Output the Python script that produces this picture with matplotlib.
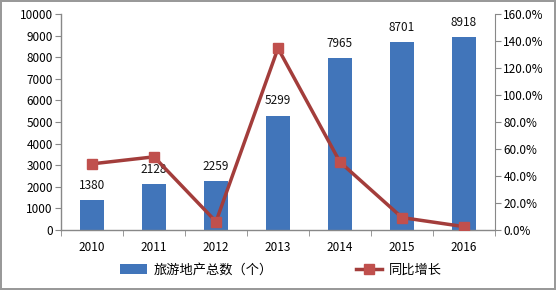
import matplotlib
matplotlib.use("Agg")
import matplotlib.pyplot as plt
from matplotlib.ticker import FuncFormatter, FixedLocator

plt.rcParams['font.family'] = ['Noto Sans CJK SC', 'DejaVu Sans']

# ── data ─────────────────────────────────────────────
years = ["2010", "2011", "2012", "2013", "2014", "2015", "2016"]
totals = [1380, 2128, 2259, 5299, 7965, 8701, 8918]
growth = [49.0, 54.2, 6.2, 134.6, 50.3, 9.2, 2.5]   # %

bar_color = "#4175BA"
line_color = "#A33D3B"
marker_color = "#C0504D"
axis_color = "#888888"

fig = plt.figure(figsize=(5.56, 2.90), dpi=100)
fig.patch.set_facecolor("white")
fig.patch.set_edgecolor("#999999")
fig.patch.set_linewidth(1.5)

ax = fig.add_axes([61 / 556, 60 / 290, 434 / 556, 216 / 290])
x = list(range(len(years)))
ax.bar(x, totals, width=0.4, color=bar_color, label="旅游地产总数（个）", zorder=2)

for xi, v in zip(x, totals):
    ax.annotate(str(v), (xi, v), xytext=(0, 6), textcoords="offset points",
                ha="center", va="bottom", fontsize=8.5, color="#111111")

ax.set_xlim(-0.5, len(years) - 0.5)
ax.set_ylim(0, 10000)
ax.set_yticks(range(0, 10001, 1000))
ax.set_xticks(x)
ax.set_xticklabels(years)
ax.xaxis.set_minor_locator(FixedLocator([i + 0.5 for i in range(-1, len(years))]))
ax.tick_params(axis="x", which="major", length=0, pad=8, labelsize=8.5)
ax.tick_params(axis="x", which="minor", length=4, color=axis_color, direction="out")
ax.tick_params(axis="y", length=4, color=axis_color, labelsize=8.5, pad=2)

for s in ["top", "right"]:
    ax.spines[s].set_visible(False)
for s in ["left", "bottom"]:
    ax.spines[s].set_color(axis_color)
    ax.spines[s].set_linewidth(1)

ax2 = ax.twinx()
ax2.plot(x, growth, color=line_color, lw=2.5, marker="s", markersize=7,
         markerfacecolor=marker_color, markeredgecolor=marker_color,
         label="同比增长", zorder=3)
ax2.set_ylim(0, 160)
ax2.set_yticks(range(0, 161, 20))
ax2.yaxis.set_major_formatter(FuncFormatter(lambda v, p: f"{v:.1f}%"))
ax2.tick_params(axis="y", length=4, color=axis_color, labelsize=8.5, pad=2)
for s in ["top", "left", "bottom"]:
    ax2.spines[s].set_visible(False)
ax2.spines["right"].set_color(axis_color)

h1, l1 = ax.get_legend_handles_labels()
h2, l2 = ax2.get_legend_handles_labels()
fig.legend(h1 + h2, l1 + l2, loc="center", bbox_to_anchor=(281 / 556, 20 / 290),
           ncol=2, frameon=False, fontsize=9.5, columnspacing=6.3,
           handlelength=2.0, handletextpad=0.5)

plt.savefig("out.png", dpi=100)
